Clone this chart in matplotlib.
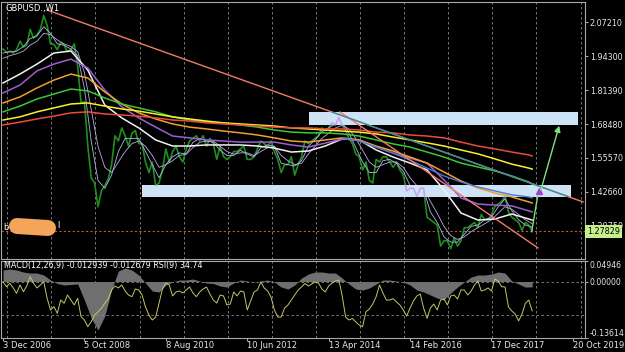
import numpy as np
import matplotlib.pyplot as plt
from matplotlib.patches import Rectangle
from matplotlib.lines import Line2D

# x axis = weekly bars counted from 3 Dec 2006
price_weeks = np.arange(0, 625, 4)
price = [1.970, 1.958, 1.962, 1.955, 1.968, 2.000, 1.978, 1.985, 2.045, 2.012,
         2.025, 2.045, 2.098, 2.060, 1.990, 1.988, 1.968, 1.995, 1.985, 1.960,
         1.968, 1.990, 1.905, 1.765, 1.770, 1.600, 1.480, 1.460, 1.370, 1.430,
         1.450, 1.475, 1.530, 1.640, 1.620, 1.670, 1.640, 1.600, 1.650, 1.660,
         1.610, 1.610, 1.540, 1.500, 1.540, 1.450, 1.460, 1.510, 1.590, 1.540,
         1.580, 1.600, 1.560, 1.540, 1.590, 1.620, 1.630, 1.640, 1.620, 1.640,
         1.600, 1.630, 1.610, 1.550, 1.600, 1.560, 1.550, 1.560, 1.580, 1.580,
         1.590, 1.600, 1.550, 1.550, 1.560, 1.590, 1.620, 1.610, 1.600, 1.620,
         1.580, 1.550, 1.500, 1.530, 1.530, 1.560, 1.490, 1.530, 1.560, 1.620,
         1.610, 1.620, 1.630, 1.640, 1.670, 1.660, 1.670, 1.690, 1.680, 1.710,
         1.680, 1.660, 1.630, 1.610, 1.570, 1.560, 1.510, 1.540, 1.470, 1.460,
         1.550, 1.540, 1.560, 1.560, 1.540, 1.520, 1.540, 1.510, 1.490, 1.430,
         1.440, 1.440, 1.410, 1.440, 1.440, 1.330, 1.320, 1.310, 1.300, 1.220,
         1.240, 1.240, 1.210, 1.250, 1.220, 1.240, 1.290, 1.290, 1.300, 1.310,
         1.290, 1.340, 1.320, 1.320, 1.340, 1.370, 1.380, 1.390, 1.410, 1.350,
         1.330, 1.320, 1.310, 1.280, 1.310, 1.300, 1.278]

# fast averages hugging the price
fast_weeks = np.arange(0, 625, 8)
fast1 = [1.955, 1.960, 1.962, 1.980, 2.010, 2.020, 2.055, 2.030, 1.990, 1.985,
         1.970, 1.945, 1.820, 1.620, 1.470, 1.440, 1.490, 1.580, 1.630, 1.630,
         1.630, 1.580, 1.530, 1.480, 1.530, 1.560, 1.575, 1.570, 1.615, 1.630,
         1.620, 1.615, 1.585, 1.565, 1.565, 1.585, 1.570, 1.560, 1.595, 1.605,
         1.600, 1.535, 1.530, 1.525, 1.545, 1.600, 1.625, 1.655, 1.670, 1.685,
         1.690, 1.650, 1.595, 1.540, 1.500, 1.500, 1.545, 1.550, 1.535, 1.505,
         1.450, 1.425, 1.435, 1.350, 1.310, 1.255, 1.235, 1.235, 1.265, 1.295,
         1.300, 1.320, 1.330, 1.370, 1.400, 1.355, 1.320, 1.300, 1.292]
fast2 = [1.935, 1.945, 1.952, 1.962, 1.985, 2.000, 2.030, 2.025, 2.005, 1.990,
         1.980, 1.960, 1.880, 1.740, 1.600, 1.520, 1.500, 1.540, 1.580, 1.610,
         1.620, 1.600, 1.565, 1.520, 1.530, 1.545, 1.565, 1.570, 1.595, 1.615,
         1.620, 1.620, 1.600, 1.580, 1.570, 1.575, 1.575, 1.565, 1.580, 1.595,
         1.600, 1.565, 1.545, 1.530, 1.535, 1.570, 1.600, 1.630, 1.650, 1.670,
         1.680, 1.665, 1.630, 1.585, 1.540, 1.520, 1.530, 1.540, 1.540, 1.520,
         1.480, 1.450, 1.440, 1.390, 1.345, 1.295, 1.260, 1.245, 1.255, 1.275,
         1.290, 1.305, 1.320, 1.345, 1.370, 1.360, 1.340, 1.320, 1.305]

# slower moving averages
ma_weeks = list(range(0, 621, 20)) + [624]
ma_white = [1.841, 1.875, 1.913, 1.955, 1.963, 1.890, 1.757, 1.708, 1.670, 1.624,
            1.601, 1.601, 1.605, 1.605, 1.605, 1.601, 1.593, 1.578, 1.582, 1.601,
            1.628, 1.624, 1.586, 1.559, 1.536, 1.510, 1.434, 1.346, 1.319, 1.323,
            1.342, 1.323, 1.319]
ma_purple = [1.803, 1.833, 1.887, 1.913, 1.932, 1.898, 1.814, 1.750, 1.708, 1.673,
             1.639, 1.632, 1.624, 1.620, 1.616, 1.616, 1.616, 1.605, 1.597, 1.612,
             1.628, 1.624, 1.597, 1.574, 1.555, 1.536, 1.472, 1.403, 1.380, 1.376,
             1.373, 1.354, 1.350]
ma_orange = [1.765, 1.788, 1.822, 1.852, 1.875, 1.860, 1.807, 1.761, 1.727, 1.704,
             1.685, 1.673, 1.666, 1.658, 1.651, 1.643, 1.632, 1.620, 1.616, 1.624,
             1.632, 1.624, 1.601, 1.582, 1.559, 1.536, 1.502, 1.468, 1.441, 1.422,
             1.407, 1.388, 1.384]
ma_green = [1.731, 1.753, 1.780, 1.799, 1.818, 1.811, 1.784, 1.761, 1.746, 1.731,
            1.712, 1.700, 1.692, 1.689, 1.681, 1.673, 1.662, 1.654, 1.651, 1.651,
            1.647, 1.639, 1.624, 1.609, 1.597, 1.578, 1.559, 1.536, 1.521, 1.506,
            1.487, 1.464, 1.456]
ma_yellow = [1.700, 1.712, 1.731, 1.746, 1.761, 1.765, 1.753, 1.742, 1.734, 1.723,
             1.712, 1.704, 1.696, 1.689, 1.685, 1.681, 1.677, 1.670, 1.666, 1.662,
             1.658, 1.654, 1.647, 1.635, 1.624, 1.613, 1.601, 1.586, 1.571, 1.552,
             1.532, 1.517, 1.513]
ma_red = [1.681, 1.692, 1.704, 1.715, 1.727, 1.731, 1.723, 1.719, 1.715, 1.708,
          1.700, 1.696, 1.689, 1.685, 1.681, 1.677, 1.673, 1.670, 1.670, 1.666,
          1.666, 1.662, 1.654, 1.651, 1.643, 1.639, 1.632, 1.616, 1.601, 1.590,
          1.578, 1.567, 1.563]
blue_weeks = ma_weeks[20:]
ma_blue = [1.632, 1.620, 1.597, 1.574, 1.547, 1.517, 1.487, 1.464, 1.445, 1.430,
           1.415, 1.407, 1.403]

# MACD histogram and RSI(9)
macd_weeks = np.arange(0, 625, 8)
macd_hist = [0.0277, 0.0301, 0.0277, 0.0229, 0.0205, 0.0205, 0.0157, 0.0036, -0.0048, -0.0084,
             -0.0072, -0.0060, -0.0446, -0.0880, -0.1169, -0.0831, -0.0205, 0.0253, 0.0325, 0.0277,
             0.0157, -0.0036, -0.0229, -0.0253, -0.0084, -0.0012, 0.0036, 0.0036, 0.0060, 0.0012,
             -0.0036, -0.0048, -0.0108, -0.0133, -0.0036, 0.0036, 0.0012, -0.0012, 0.0012, 0.0036,
             -0.0012, -0.0133, -0.0181, -0.0084, 0.0084, 0.0181, 0.0229, 0.0229, 0.0205, 0.0205,
             0.0084, -0.0060, -0.0181, -0.0205, -0.0157, -0.0060, 0.0036, 0.0036, 0.0012, -0.0012,
             -0.0084, -0.0205, -0.0253, -0.0325, -0.0398, -0.0446, -0.0277, -0.0133, -0.0012, 0.0108,
             0.0157, 0.0157, 0.0181, 0.0229, 0.0205, 0.0012, -0.0060, -0.0133, -0.0129]
rsi = [69.2, 63.3, 67.3, 61.8, 55.5, 65.3, 57.4, 64.1, 75.1, 67.3,
       61.8, 65.3, 69.2, 49.6, 35.9, 39.8, 32.0, 47.6, 43.8, 53.5,
       47.6, 41.8, 49.6, 28.0, 24.1, 16.2, 22.1, 30.0, 33.5, 38.0,
       43.8, 48.8, 59.4, 64.1, 61.8, 65.3, 58.2, 53.5, 51.5, 60.6,
       59.4, 53.5, 39.4, 30.0, 24.1, 27.6, 44.1, 60.6, 67.6, 65.3,
       52.4, 57.1, 58.2, 55.9, 59.4, 62.9, 55.9, 51.5, 57.1, 60.6,
       62.9, 54.7, 47.6, 44.1, 53.5, 52.4, 41.8, 42.9, 57.1, 52.4,
       58.2, 57.1, 35.9, 46.5, 57.1, 59.4, 68.8, 61.8, 58.2, 51.2,
       35.9, 27.6, 27.6, 38.2, 41.8, 47.6, 53.5, 59.4, 62.9, 67.1,
       64.1, 66.5, 68.8, 67.6, 60.6, 57.1, 64.1, 67.6, 70.0, 71.2,
       52.4, 27.6, 24.1, 25.9, 21.8, 18.2, 16.2, 33.9, 37.1, 42.9,
       51.5, 65.3, 55.9, 47.6, 47.6, 49.2, 45.3, 41.8, 35.9, 28.8,
       38.2, 46.5, 52.4, 54.7, 38.2, 26.1, 38.2, 42.9, 35.9, 47.6,
       48.8, 41.8, 52.4, 53.5, 48.8, 59.4, 59.4, 53.5, 58.2, 65.3,
       70.0, 58.2, 59.4, 61.8, 58.2, 72.4, 70.0, 63.3, 62.9, 39.4,
       34.7, 31.2, 23.0, 31.2, 43.8, 47.6, 34.74]

# drawn objects: zones (week0, week1, low, high), trendlines, arrows
zones = [(360.8, 678.1, 1.6800, 1.7305), (163.9, 669.8, 1.4068, 1.4525)]
trend_long = ([51.9, 684.0], [2.119, 1.388])
trend_teal = ([388.0, 666.3], [1.7305, 1.4085])
trend_steep = ([397.4, 630.9], [1.7305, 1.2126])
arrow_a = ((623.4, 1.2747), (631.5, 1.4297))
arrow_b = ((633.3, 1.4221), (656.8, 1.6886))

date_ticks = [0, 96, 192, 288, 384, 480, 576, 672]
date_labels = ['3 Dec 2006', '5 Oct 2008', '8 Aug 2010', '10 Jun 2012',
               '13 Apr 2014', '14 Feb 2016', '17 Dec 2017', '20 Oct 2019']
price_ticks = [2.07210, 1.94300, 1.81390, 1.68480, 1.55570, 1.42660, 1.29750]
macd_ticks = [0.04946, 0.0, -0.13614]
last_price = 1.27829
grid_weeks = np.arange(5, 686, 52)

W, H = 625, 352


def fpx(x, y):
    return x / W, 1 - y / H


plt.rcParams['font.family'] = ['DejaVu Sans']
fig = plt.figure(figsize=(W / 100, H / 100), dpi=100, facecolor='black')
ax = fig.add_axes([1 / W, 1 - 259 / H, 584 / W, 257 / H])
ax2 = fig.add_axes([1 / W, 1 - 338 / H, 584 / W, 77 / H], sharex=ax)
ax3 = ax2.twinx()

spine_c = '#a8a8a8'
for a in (ax, ax2):
    a.set_facecolor('black')
    for s in a.spines.values():
        s.set_color(spine_c)
        s.set_linewidth(0.8)
    for g in grid_weeks:
        a.axvline(g, color='#8a8a8a', lw=0.6, ls=(0, (3, 3)), zorder=0)
for s in ax3.spines.values():
    s.set_visible(False)

ax.set_xlim(-2.4, 686.3)
ax.set_ylim(1.1707, 2.1494)
ax2.set_ylim(-0.13614, 0.04946)
ax3.set_ylim(2.94, 93.5)

# price with averages
ax.plot(price_weeks, price, color='#1f8f1f', lw=1.2, zorder=2)
ax.plot(fast_weeks, fast1, color='#a9b8dd', lw=0.6, zorder=2.5)
ax.plot(fast_weeks, fast2, color='#c0a8e0', lw=0.6, zorder=2.5)
for vals, col in [(ma_white, '#f2f2f2'), (ma_purple, '#9b5fd6'), (ma_orange, '#f0a030'),
                  (ma_green, '#38c838'), (ma_yellow, '#f5f032'), (ma_red, '#ec4a3c')]:
    ax.plot(ma_weeks, vals, color=col, lw=1.1, zorder=4)
ax.plot(blue_weeks, ma_blue, color='#4a78d8', lw=1.0, zorder=4)

# zones, with price inverted inside them
for w0, w1, lo, hi in zones:
    rect = Rectangle((w0, lo), w1 - w0, hi - lo, facecolor='#cfe3f7',
                     edgecolor='none', zorder=3)
    ax.add_patch(rect)
    inner, = ax.plot(price_weeks, price, color='#c9a2ef', lw=1.2, zorder=3.5)
    inner.set_clip_path(rect)

ax.plot(*trend_long, color='#f47a6a', lw=1.0, zorder=5)
ax.plot(*trend_teal, color='#2f8f9a', lw=1.0, zorder=5.5)
ax.plot(*trend_steep, color='#f47a6a', lw=1.0, zorder=5)

ax.axhline(last_price, color='#b4603c', lw=0.8, ls=(0, (2, 2)), zorder=1)

(ax0, ay0), (ax1, ay1) = arrow_a
ax.plot([ax0, ax1], [ay0, ay1], color='#7ee07e', lw=1.0, zorder=6)
ax.plot([ax1], [ay1], marker='^', color='#a03ce0', ms=5, zorder=6)
ax.annotate('', xy=arrow_b[1], xytext=arrow_b[0], zorder=6,
            arrowprops=dict(arrowstyle='-|>', color='#7ee07e', lw=1.0, mutation_scale=9))

ax.yaxis.tick_right()
ax.set_yticks(price_ticks)
ax.set_yticklabels([f'{v:.5f}' for v in price_ticks])
ax.tick_params(axis='y', direction='out', length=2.5, color=spine_c,
               labelcolor='#e6e6e6', labelsize=5.8, pad=1)
ax.tick_params(axis='x', bottom=False, labelbottom=False)

# MACD + RSI panel
ax2.fill_between(macd_weeks, 0, macd_hist, color='#6f6f6f', lw=0, zorder=1)
ax2.axhline(0, color='#8a8a8a', lw=0.6, ls=(0, (3, 3)), zorder=0.5)
ax3.axhline(30, color='#8a8a8a', lw=0.6, ls=(0, (3, 3)), zorder=0.5)
ax3.plot(price_weeks, rsi, color='#c4c46a', lw=0.7)
ax3.set_yticks([])

ax2.yaxis.tick_right()
ax2.set_yticks(macd_ticks)
ax2.set_yticklabels([f'{v:.5f}' for v in macd_ticks])
ax2.tick_params(axis='y', direction='out', length=2.5, color=spine_c,
                labelcolor='#e6e6e6', labelsize=5.6, pad=0.5)
labs = ax2.get_yticklabels()
labs[0].set_va('top')
labs[2].set_va('bottom')

ax2.set_xticks(date_ticks)
ax2.set_xticklabels(date_labels)
ax2.tick_params(axis='x', direction='out', length=2, color=spine_c,
                labelcolor='#e6e6e6', labelsize=6, pad=0.5)
for t in ax2.get_xticklabels():
    t.set_ha('left')

# captions
fig.text(*fpx(5, 8), 'GBPUSD.,W1', color='white', fontsize=6, va='center')
fig.text(*fpx(4, 265.5), 'MACD(12,26,9) -0.012939 -0.012679 RSI(9) 34.74',
         color='white', fontsize=5.8, va='center')
fig.text(*fpx(587, 231.5), '1.27829', color='black', fontsize=5.8, va='center',
         bbox=dict(facecolor='#c4ef8c', edgecolor='none', pad=1.2))

# painted-over label on the left
fig.add_artist(Line2D([17 / W, 48 / W], [1 - 226 / H, 1 - 228 / H], color='#f5a55a',
                      lw=11.5, solid_capstyle='round', transform=fig.transFigure))
fig.text(*fpx(3, 227), 'b', color='white', fontsize=6, va='center')
fig.text(*fpx(57, 226), 'l', color='white', fontsize=6, va='center')

fig.savefig('out.png', dpi=100, facecolor='black')
